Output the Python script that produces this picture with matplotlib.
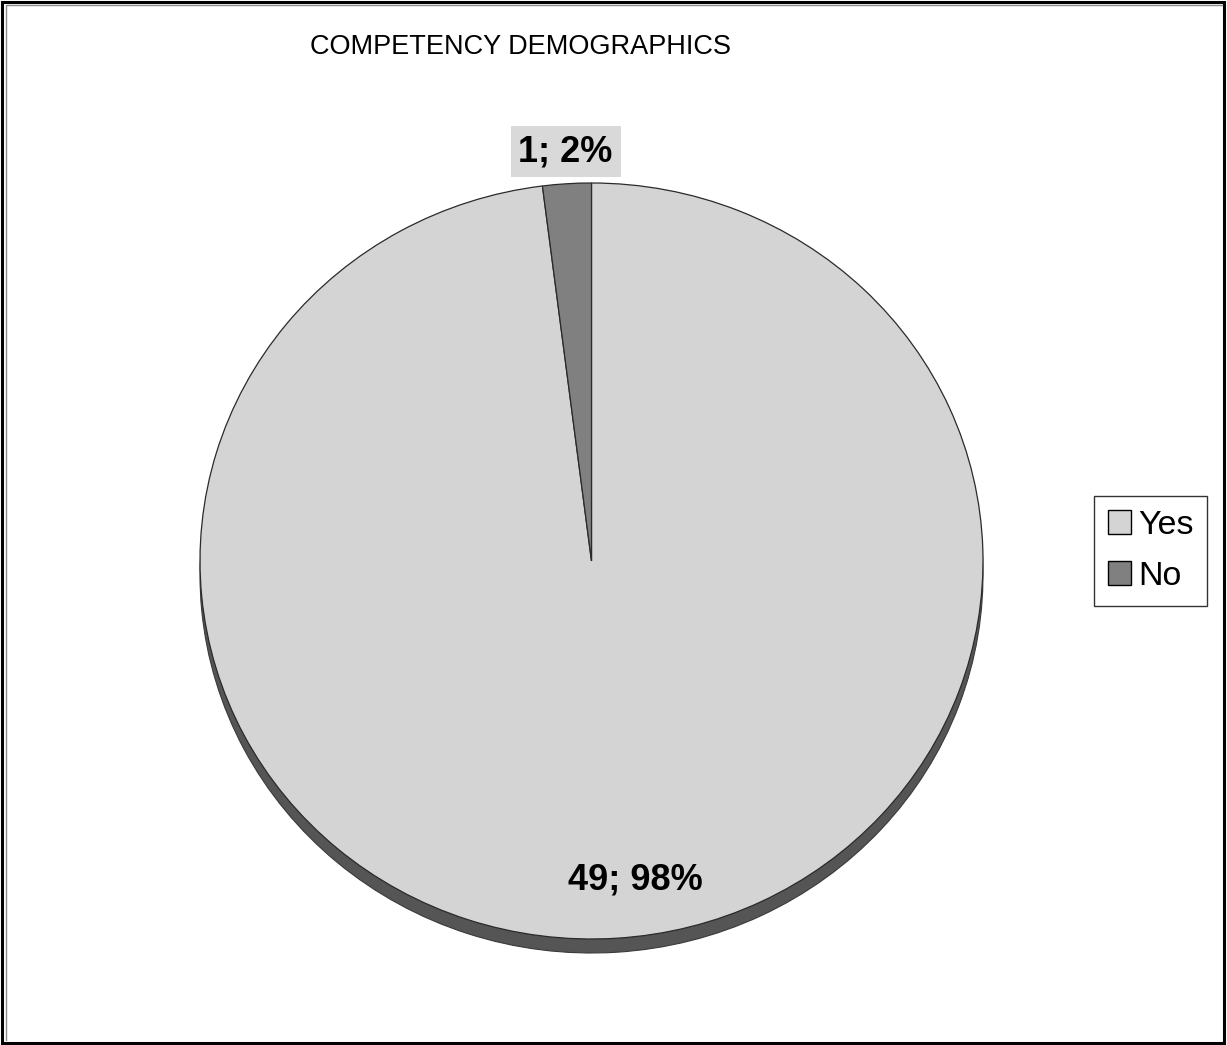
import matplotlib
matplotlib.use("Agg")
import matplotlib.pyplot as plt
from matplotlib.patches import Patch, Rectangle

plt.rcParams['font.family'] = ['Liberation Sans', 'DejaVu Sans']

# Survey answers
categories = ["Yes", "No"]
counts = [49, 1]
title = "COMPETENCY DEMOGRAPHICS"

face_colors = ["#d4d4d4", "#808080"]
shadow_color = "#555555"
edge_color = "#2a2a2a"

W, H, DPI = 1227, 1045, 100
fig = plt.figure(figsize=(W / DPI, H / DPI), dpi=DPI)
fig.patch.set_facecolor("white")

# Overlay in pixel units for the frame and title
ov = fig.add_axes([0, 0, 1, 1])
ov.set_xlim(0, W)
ov.set_ylim(H, 0)
ov.axis("off")
ov.add_patch(Rectangle((1.5, 1.5), 1222.5, 1041, fill=False,
                       edgecolor="black", lw=2.2, zorder=5))
ov.plot([5.5, 5.5, 1222], [1040, 4.8, 4.8], color="#8a8a8a", lw=1.0,
        zorder=5)
ov.text(521, 47, title, ha="center", va="center", fontsize=19.5,
        color="black")

# Pie axes: slightly flattened ellipse (3D-looking tilt)
cx, cy, rx, ry = 591.5, 561, 391.5, 378
pax = fig.add_axes([(cx - rx) / W, (H - cy - ry) / H, 2 * rx / W, 2 * ry / H])
pax.axis("off")

total = sum(counts)

# depth/shadow below the top face
shadow, _ = pax.pie(counts, colors=[shadow_color, shadow_color], startangle=90,
                    counterclock=False, center=(0, -14 / ry), radius=1,
                    wedgeprops=dict(edgecolor="#3a3a3a", linewidth=0.8))
for w in shadow:
    w.set_clip_on(False)
    w.set_zorder(1)

wedges, _ = pax.pie(counts, colors=face_colors, startangle=90,
                    counterclock=False, radius=1,
                    wedgeprops=dict(edgecolor=edge_color, linewidth=0.9))
for w in wedges:
    w.set_clip_on(False)
    w.set_zorder(2)
pax.set_aspect("auto")
pax.set_xlim(-1, 1)
pax.set_ylim(-1, 1)

labels = [f"{c}; {round(100 * c / total)}%" for c in counts]
# Yes label inside near the bottom, No label above the slice in a box
pax.text(0.111, -0.845, labels[0], ha="center", va="center", fontsize=26,
         fontweight="bold", zorder=4)
pax.text(-0.066, 1.083, labels[1], ha="center", va="center", fontsize=26,
         fontweight="bold", zorder=4, clip_on=False,
         bbox=dict(boxstyle="square,pad=0.22", facecolor="#d9d9d9",
                   edgecolor="none"))

handles = [Patch(facecolor=c, edgecolor="black", linewidth=1.0, label=l)
           for c, l in zip(face_colors, categories)]
leg = fig.legend(handles=handles, loc="upper left",
                 bbox_to_anchor=(1094 / W, 1 - 496 / H), borderaxespad=0,
                 fontsize=24.5, frameon=True, fancybox=False, handlelength=0.7,
                 handleheight=0.7, handletextpad=0.2, labelspacing=0.6,
                 borderpad=0.4)
leg.get_frame().set_edgecolor("black")
leg.get_frame().set_linewidth(1.0)

fig.savefig("out.png", dpi=DPI, facecolor="white")
